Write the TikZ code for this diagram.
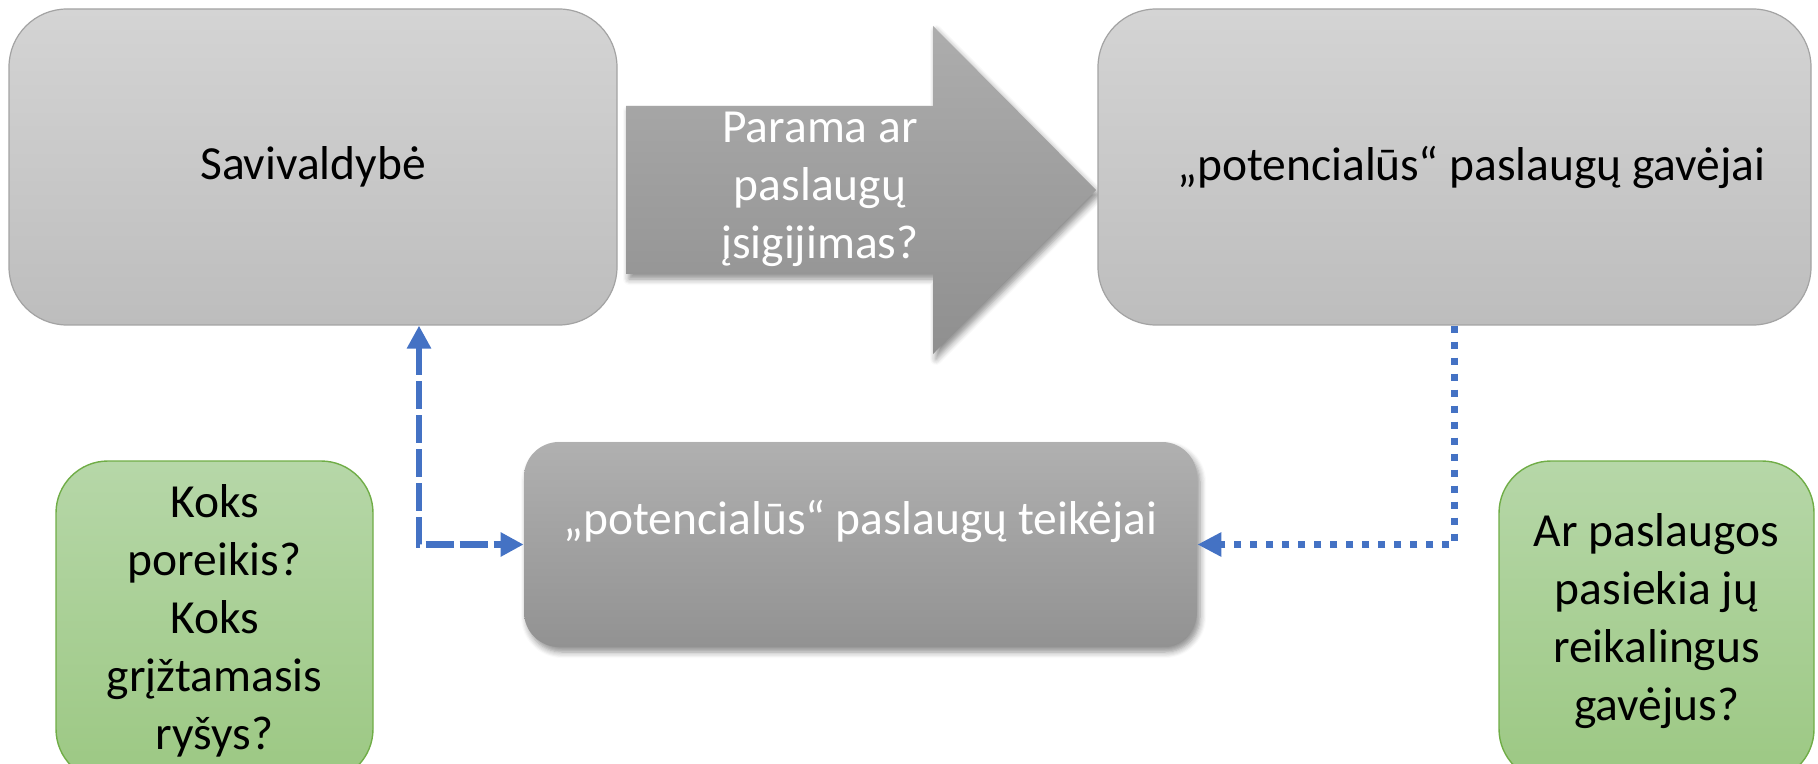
\documentclass[tikz,border=0pt]{standalone}
\usepackage{fontspec}
\setmainfont{Carlito}
\usetikzlibrary{arrows.meta,shadows.blur,calc}
\definecolor{boxtop}{HTML}{D4D4D4}
\definecolor{boxbot}{HTML}{BDBDBD}
\definecolor{boxline}{HTML}{A3A3A3}
\definecolor{darktop}{HTML}{B0B0B0}
\definecolor{darkbot}{HTML}{929292}
\definecolor{arrtop}{HTML}{ADADAD}
\definecolor{arrbot}{HTML}{8F8F8F}
\definecolor{greentop}{HTML}{B6D7A8}
\definecolor{greenbot}{HTML}{9CC883}
\definecolor{greenline}{HTML}{70AD47}
\definecolor{linkblue}{HTML}{4472C4}
\tikzset{
  txt/.style={font=\fontsize{23.75}{29}\selectfont, align=center, inner sep=0pt},
  graybox/.style={txt, rounded corners=29pt, draw=boxline, line width=0.6pt,
    top color=boxtop, bottom color=boxbot, text=black},
  darkbox/.style={txt, rounded corners=17.5pt, top color=darktop, bottom color=darkbot,
    blur shadow={shadow xshift=1.5pt, shadow yshift=-2.5pt, shadow blur steps=6, shadow blur radius=3pt, shadow opacity=45}},
  greenbox/.style={txt, rounded corners=26pt, draw=greenline, line width=0.7pt,
    top color=greentop, bottom color=greenbot, text=black},
  bigarrow/.style={top color=arrtop, bottom color=arrbot,
    blur shadow={shadow xshift=1.5pt, shadow yshift=-2.5pt, shadow blur steps=6, shadow blur radius=3pt, shadow opacity=45}},
  tipA/.style={Triangle[length=11.5pt,width=11.5pt]},
  linkdash/.style={draw=linkblue, line width=3.4pt, dash pattern=on 14pt off 3pt},
  linkdot/.style={draw=linkblue, line width=3.4pt, dash pattern=on 3.5pt off 4.5pt},
}
\begin{document}
\begin{tikzpicture}[x=0.5pt,y=-0.5pt]
\useasboundingbox (0,0) rectangle (1818,764);

% big arrow
\path[bigarrow] (626,106) -- (933,106) -- (933,26) -- (1096,190) -- (933,354) -- (933,274) -- (626,274) -- cycle;
\node[txt, text=white] (arrtext) at (820,189) {Parama ar\\paslaugų\\įsigijimas?};

% top boxes
\node[graybox, minimum width=304pt, minimum height=158pt] (mun) at (313,167) {Savivaldybė};
\node[graybox, minimum width=356.5pt, minimum height=158pt] (rec) at (1454.5,167) {\hspace*{17pt}„potencialūs“ paslaugų gavėjai};

% providers
\node[darkbox, minimum width=336.5pt, minimum height=102.5pt,
  label={[txt, text=white, yshift=11.5pt]center:„potencialūs“ paslaugų teikėjai}] (prov) at (860.5,544.5) {};

% green question boxes
\node[greenbox, minimum width=158.5pt, minimum height=160pt] (q1) at (214.5,621)
  {Koks\\poreikis?\\Koks\\grįžtamasis\\ryšys?};
\node[greenbox, minimum width=157.5pt, minimum height=160pt] (q2) at (1656.5,621)
  {Ar paslaugos\\pasiekia jų\\reikalingus\\gavėjus?};

% connectors
\coordinate (lx) at (419,0);
\draw[linkdash, {Triangle[length=11.5pt,width=11.5pt]}-{Triangle[length=11.5pt,width=11.5pt]}]
  (mun.south -| lx) |- (prov.west);
\draw[linkdot, -{Triangle[length=12pt,width=11.5pt]}]
  (rec.south) |- (prov.east);
\end{tikzpicture}
\end{document}
